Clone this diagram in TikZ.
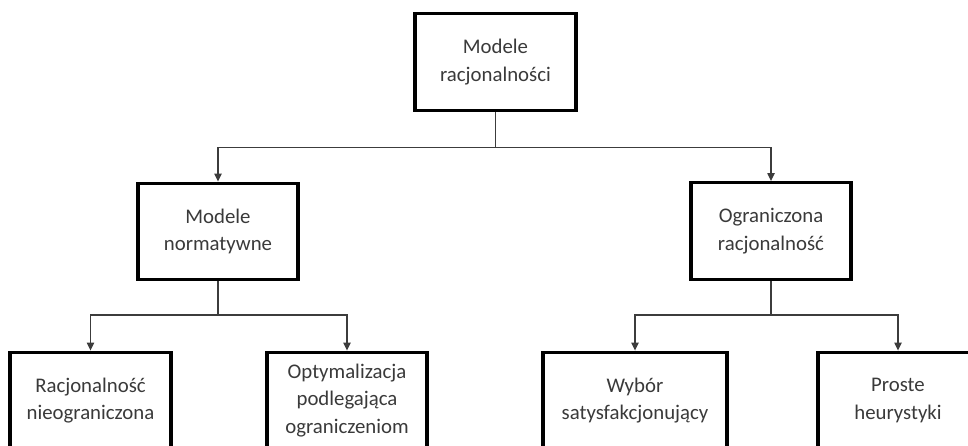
\documentclass[tikz,border=0pt]{standalone}
\usepackage{fontspec}
\setmainfont{Carlito}
\usetikzlibrary{arrows.meta}
\definecolor{txt}{HTML}{3A3A3A}
\definecolor{conn}{HTML}{3C3C3C}
\tikzset{
  box/.style={draw=black, line width=2.4pt, fill=white, align=center,
    text=txt, font=\fontsize{15.6pt}{20.8pt}\selectfont,
    minimum width=#1*0.75pt, minimum height=72.5pt, inner sep=0pt},
  box/.default=160,
  link/.style={draw=conn, line width=0.9pt,
    -{Triangle[length=6pt,width=5.5pt]}}
}
\begin{document}
\begin{tikzpicture}[x=0.75pt,y=-0.75pt]
\useasboundingbox (0,0) rectangle (968,446);
\clip (0,0) rectangle (968,446);
\fill[white] (0,0) rectangle (968,446);
\node[box=161] (top) at (495.5,62) {Modele\\racjonalności};
\node[box] (mn) at (218,231.5) {Modele\\normatywne};
\node[box] (or) at (771,231) {Ograniczona\\racjonalność};
\node[box=161] (b1) at (90.5,400.5) {Racjonalność\\nieograniczona};
\node[box] (b2) at (347,400.5) {Optymalizacja\\podlegająca\\ograniczeniom};
\node[box=184] (b3) at (635,400.5) {Wybór\\satysfakcjonujący};
\node[box] (b4) at (898,400.5) {Proste\\heurystyki};
\coordinate (j0) at (495.5,147.5);
\coordinate (j1) at (218,315);
\coordinate (j2) at (771,315);
\draw[link] (top.south) -- (j0) -| (mn.north);
\draw[link] (top.south) -- (j0) -| (or.north);
\draw[link] (mn.south) -- (j1) -| (b1.north);
\draw[link] (mn.south) -- (j1) -| (b2.north);
\draw[link] (or.south) -- (j2) -| (b3.north);
\draw[link] (or.south) -- (j2) -| (b4.north);
\end{tikzpicture}
\end{document}
